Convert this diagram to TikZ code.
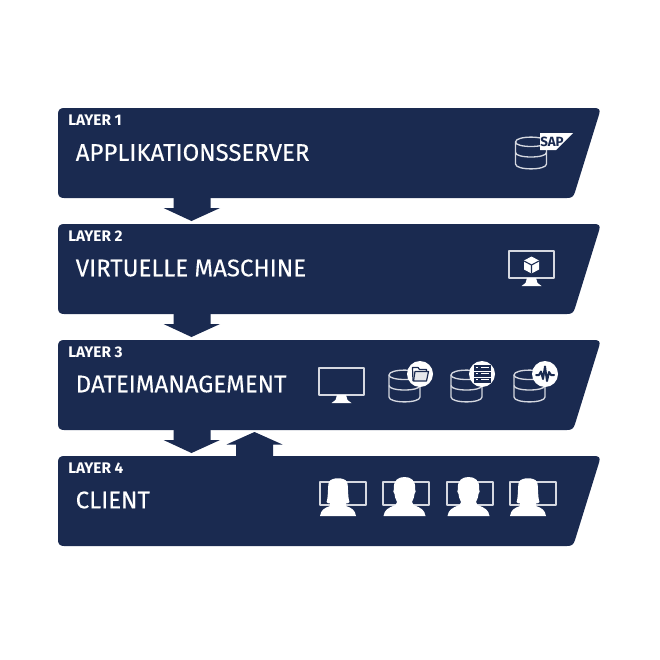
\documentclass[tikz,border=0pt]{standalone}
\usepackage{fontspec}
\setmainfont{Fira Sans}
\newfontfamily\titlefont[FakeBold=0.2]{Fira Sans}
\definecolor{navy}{HTML}{1A2A50}
\definecolor{iconline}{HTML}{D5D8E0}
\tikzset{
  band/.style={fill=navy,draw=none},
  block/.style={fill=navy,draw=none},
  layerlabel/.style={text=white,anchor=west,font=\fontsize{11.5}{13}\selectfont\bfseries,inner sep=0pt},
  title/.style={text=white,anchor=west,font=\fontsize{18}{21}\titlefont,inner sep=0pt},
  iconstroke/.style={draw=iconline,line width=1pt,line join=round},
  iconfill/.style={fill=white,draw=none},
  badge/.style={fill=white,draw=none},
  navyline/.style={draw=navy,line width=0.9pt,line join=round}
}
\newcommand{\bandat}[1]{%
  \begin{scope}[shift={(0,#1)}]
  \path[band] (64,0) -- (594,0) .. controls (599,0) and (600.5,1.5) .. (599.2,6)
    -- (575,84) .. controls (573.5,88.5) and (572,90) .. (567,90)
    -- (64,90) .. controls (60,90) and (58,88) .. (58,84)
    -- (58,6) .. controls (58,2) and (60,0) .. (64,0) -- cycle;
  \end{scope}}
\newcommand{\dnarrow}[1]{%
  \path[block] (173.5,#1) -- (210.5,#1) -- (210.5,#1+10) -- (220,#1+10) -- (191.5,#1+23) -- (163.5,#1+10) -- (173.5,#1+10) -- cycle;}
\newcommand{\database}[2]{%
  \begin{scope}[shift={(#1,#2)}]
    \draw[iconstroke] (0,5) .. controls (0,-1.5) and (31,-1.5) .. (31,5)
      -- (31,27) .. controls (31,33.5) and (0,33.5) .. (0,27) -- cycle;
    \draw[iconstroke] (0,5) .. controls (0,11) and (31,11) .. (31,5);
    \draw[iconstroke] (0,15.5) .. controls (0,21.5) and (31,21.5) .. (31,15.5);
  \end{scope}}
\newcommand{\screen}[4]{%
  \draw[iconstroke] (#1,#2) rectangle (#1+#3,#2+#4);}
\newcommand{\standat}[2]{%
  \path[iconfill] (#1-4.5,#2) -- (#1+4.5,#2) -- (#1+6,#2+5) -- (#1+10,#2+8) -- (#1-10,#2+8) -- (#1-6,#2+5) -- cycle;}
\newcommand{\woman}[1]{%
  \begin{scope}[shift={(#1,477)}]
    \path[iconfill] (-18,39) .. controls (-17,33) and (-14,31) .. (-8,29) -- (-8,26.5)
      .. controls (-10,26.5) and (-11,26) .. (-11.5,25)
      .. controls (-9.5,20) and (-10.5,8) .. (-9,5)
      .. controls (-7,0) and (7,0) .. (9,5)
      .. controls (10.5,8) and (9.5,20) .. (11.5,25)
      .. controls (11,26) and (10,26.5) .. (8,26.5)
      -- (8,29) .. controls (14,31) and (17,33) .. (18,39) -- cycle;
  \end{scope}}
\newcommand{\man}[1]{%
  \begin{scope}[shift={(#1,477)}]
    \path[iconfill] (-21,39) .. controls (-20,33) and (-17,31) .. (-9,28) -- (-7.5,25)
      .. controls (-9,22) and (-10,19) .. (-10,17)
      .. controls (-11.5,16) and (-11.5,13) .. (-10.5,12)
      .. controls (-11.5,3) and (-6,0) .. (0,0)
      .. controls (6,0) and (11.5,3) .. (10.5,12)
      .. controls (11.5,13) and (11.5,16) .. (10,17)
      .. controls (10,19) and (9,22) .. (7.5,25)
      -- (9,28) .. controls (17,31) and (20,33) .. (21,39) -- cycle;
  \end{scope}}
\begin{document}
\begin{tikzpicture}[x=0.75pt,y=-0.75pt]
\useasboundingbox (0,0) rectangle (660,660);
\path[fill=white] (0,0) rectangle (660,660);
% bands
\bandat{108}
\bandat{224}
\bandat{340}
\bandat{456}
% arrows
\dnarrow{198}
\dnarrow{314}
\dnarrow{430}
\path[block] (236,456) -- (236,444.5) -- (226.5,444.5) -- (254.5,432) -- (282.5,444.5) -- (273,444.5) -- (273,456) -- cycle;
% labels
\node[layerlabel] (l1) at (68,120) {LAYER 1};
\node[layerlabel] (l2) at (68,236) {LAYER 2};
\node[layerlabel] (l3) at (68,352) {LAYER 3};
\node[layerlabel] (l4) at (68,468) {LAYER 4};
\node[title] (t1) at (75.5,152.5) {APPLIKATIONSSERVER};
\node[title] (t2) at (75.5,268) {VIRTUELLE MASCHINE};
\node[title] (t3) at (75.5,384) {DATEIMANAGEMENT};
\node[title] (t4) at (75.5,500) {CLIENT};
% Layer 1 icon
\database{515.5}{137}
\path[fill=white] (540,133) -- (573,133) -- (556,150) -- (540,150) -- cycle;
\node[text=navy,inner sep=0pt,font=\fontsize{10}{12}\selectfont\bfseries] (sap) at (552,141.5) {SAP};
% Layer 2 icon
\screen{509}{251}{45}{27}
\standat{531.5}{278}
\begin{scope}[shift={(531.5,265)}]
  \path[iconfill] (0,-8.5) -- (7.5,-4.5) -- (7.5,4.5) -- (0,8.5) -- (-7.5,4.5) -- (-7.5,-4.5) -- cycle;
  \draw[navyline,line width=0.8pt] (-7.5,-4) -- (0,0) -- (7.5,-4) (0,0) -- (0,8.5);
\end{scope}
% Layer 3 icons
\screen{319}{368}{45}{27}
\standat{341.5}{395}
\database{389}{370}
\database{451}{370}
\database{514}{370}
\path[badge] (420,374) circle (13);
\path[badge] (482,374) circle (13);
\path[badge] (545,374) circle (13);
% folder
\draw[navyline] (413,381) -- (412.5,367.5) -- (418,367.5) -- (419.5,369.5) -- (426.5,369.5) -- (426.5,371.5);
\draw[navyline,fill=iconline!60!white] (413.5,381) -- (415,371.5) -- (428.5,371.5) -- (426.5,381) -- cycle;
% server racks
\path[fill=navy] (474,365) rectangle (491,383);
\foreach \yy in {367,373,379}{
  \draw[white,line width=0.7pt] (476,\yy+0.5) -- (477.5,\yy+0.5) (481,\yy+0.5) -- (489,\yy+0.5);
}
\draw[white,line width=0.6pt] (474,371) -- (491,371) (474,377) -- (491,377);
% pulse
\draw[draw=navy,line width=1.5pt,line join=round,line cap=round] (536,375) -- (539,375) -- (541,371.5) -- (543,379) -- (545,366.5) -- (547,381) -- (549,372) -- (551,375) -- (554,375);
% Layer 4 icons
\screen{320}{482}{46}{23}
\screen{383}{482}{46}{23}
\screen{447}{482}{46}{23}
\screen{510}{482}{46}{23}
\woman{338}
\man{404.5}
\man{468.5}
\woman{528}
\end{tikzpicture}
\end{document}
